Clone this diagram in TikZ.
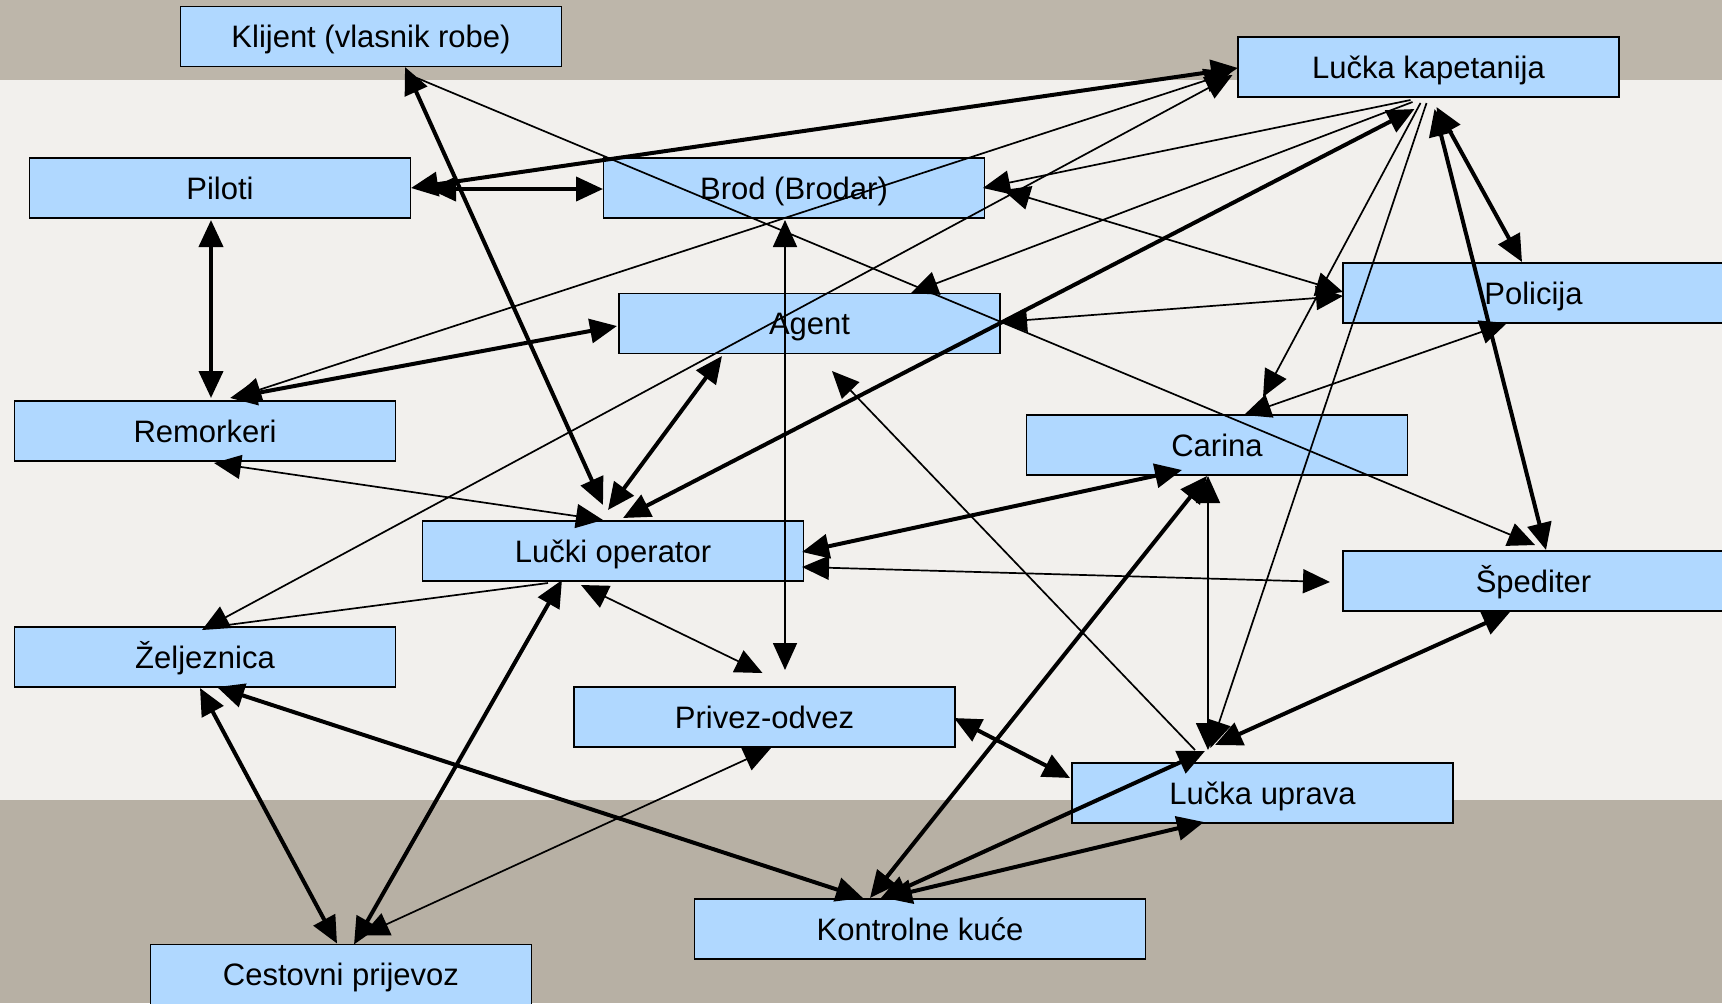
\documentclass[tikz,border=0pt]{standalone}
\usepackage{fontspec}
\setmainfont{Liberation Sans}
\usetikzlibrary{arrows.meta}
\definecolor{boxblue}{RGB}{176,216,255}
\definecolor{stone}{RGB}{189,182,170}
\definecolor{stonebot}{RGB}{183,176,164}
\definecolor{paper}{RGB}{242,240,237}
\begin{document}
\begin{tikzpicture}[x=0.5pt,y=-0.5pt,
  box/.style={draw=black,line width=0.8pt,fill=boxblue,minimum width=190.5pt,minimum height=30pt,inner sep=0pt,font=\fontsize{15.5pt}{18pt}\selectfont,text height=11.2pt,text depth=0pt},
  thn/.style={line width=0.85pt},
  thk/.style={line width=2pt},
  >={Triangle[length=13.5pt,width=12pt]},
]
\useasboundingbox (0,0) rectangle (1722,1003);
\fill[stone] (0,0) rectangle (1722,80);
\fill[paper] (0,80) rectangle (1722,800);
\fill[stonebot] (0,800) rectangle (1722,1003);

\node[box] (klijent) at (371,36.5) {Klijent (vlasnik robe)};
\node[box] (lk) at (1428.5,67) {Lučka kapetanija};
\node[box] (piloti) at (220,188) {Piloti};
\node[box] (brod) at (794,188) {Brod (Brodar)};
\node[box] (agent) at (809.5,323.5) {Agent};
\node[box] (policija) at (1533.5,293) {Policija};
\node[box] (remorkeri) at (205,431) {Remorkeri};
\node[box] (carina) at (1217,445) {Carina};
\node[box] (lo) at (613,551) {Lučki operator};
\node[box] (spediter) at (1533.5,581) {Špediter};
\node[box] (zeljeznica) at (205,657) {Željeznica};
\node[box] (privez) at (764.5,717) {Privez-odvez};
\node[box] (lu) at (1262.5,793) {Lučka uprava};
\node[box,minimum width=225.5pt] (kontrolne) at (920,929) {Kontrolne kuće};
\node[box] (cestovni) at (341,974.5) {Cestovni prijevoz};

\draw[thk,<->] ([shift={(34,30.5)}]klijent.center) -- ([shift={(-10,-46)}]lo.center);
\draw[thn,->] ([shift={(46,41.5)}]klijent.center) -- ([shift={(1.5,-36)}]spediter.center);
\draw[thk,<->] ([shift={(-190.5,1)}]lk.center) -- ([shift={(191,0)}]piloti.center);
\draw[thk,<->] ([shift={(209,1)}]piloti.center) -- ([shift={(-191,1)}]brod.center);
\draw[thk,<->] ([shift={(-9,32)}]piloti.center) -- ([shift={(6,-33)}]remorkeri.center);
\draw[thk,<->] ([shift={(25,-33)}]remorkeri.center) -- ([shift={(-192.5,2.5)}]agent.center);
\draw[thn,<->] ([shift={(29,-33)}]remorkeri.center) -- ([shift={(-197,5)}]lk.center);
\draw[thn,<->] ([shift={(-3,-27)}]zeljeznica.center) -- ([shift={(-196,8)}]lk.center);
\draw[thn,->] ([shift={(-18,33)}]lk.center) -- ([shift={(189,0)}]brod.center);
\draw[thn,<->] ([shift={(209,2)}]brod.center) -- ([shift={(-190.5,-1)}]policija.center);
\draw[thn,<->] ([shift={(-9,32)}]brod.center) -- ([shift={(20.5,-47)}]privez.center);
\draw[thn,->] ([shift={(-16,35)}]lk.center) -- ([shift={(101.5,-30.5)}]agent.center);
\draw[thn,<->] ([shift={(-190.5,3)}]policija.center) -- ([shift={(190.5,-1.5)}]agent.center);
\draw[thk,<->] ([shift={(-87.5,32.5)}]agent.center) -- ([shift={(-5,-41)}]lo.center);
\draw[thn,<-] ([shift={(22.5,47.5)}]agent.center) -- ([shift={(-67.5,-43)}]lu.center);
\draw[thk,<->] ([shift={(-14,42)}]lk.center) -- ([shift={(10,-33)}]lo.center);
\draw[thk,<->] ([shift={(8,40)}]lk.center) -- ([shift={(-11.5,-31)}]policija.center);
\draw[thk,<->] ([shift={(6,42)}]lk.center) -- ([shift={(12.5,-31)}]spediter.center);
\draw[thn,->] ([shift={(-8,36)}]lk.center) -- ([shift={(46,-48)}]carina.center);
\draw[thn,->] ([shift={(-2,36)}]lk.center) -- ([shift={(-52,-45)}]lu.center);
\draw[thn,<->] ([shift={(-26.5,30)}]policija.center) -- ([shift={(27,-30)}]carina.center);
\draw[thk,<->] ([shift={(189,1)}]lo.center) -- ([shift={(-35,25)}]carina.center);
\draw[thn,<->] ([shift={(189,16)}]lo.center) -- ([shift={(-203.5,1)}]spediter.center);
\draw[thk,<->] ([shift={(-10,31)}]carina.center) -- ([shift={(-50,-31)}]kontrolne.center);
\draw[thn,<->] ([shift={(-9,31)}]carina.center) -- ([shift={(-54.5,-43)}]lu.center);
\draw[thn,<->] ([shift={(-10,-31)}]lo.center) -- ([shift={(9,32)}]remorkeri.center);
\draw[thn] ([shift={(-65,32)}]lo.center) -- ([shift={(7,-30)}]zeljeznica.center);
\draw[thn,<->] ([shift={(-32,34)}]lo.center) -- ([shift={(-2,-44)}]privez.center);
\draw[thk,<->] ([shift={(-51,29)}]lo.center) -- ([shift={(13,-30)}]cestovni.center);
\draw[thk,<->] ([shift={(-5,31)}]zeljeznica.center) -- ([shift={(-4,-31)}]cestovni.center);
\draw[thk,<->] ([shift={(12,30)}]zeljeznica.center) -- ([shift={(-57,-31)}]kontrolne.center);
\draw[thn,<->] ([shift={(6.5,31)}]privez.center) -- ([shift={(21,-39)}]cestovni.center);
\draw[thk,<->] ([shift={(189.5,1)}]privez.center) -- ([shift={(-192.5,-15)}]lu.center);
\draw[thk,<->] ([shift={(-47.5,-48)}]lu.center) -- ([shift={(-23.5,31)}]spediter.center);
\draw[thk,<->] ([shift={(-57.5,-42)}]lu.center) -- ([shift={(-40,-30)}]kontrolne.center);
\draw[thk,<->] ([shift={(-35,-31)}]kontrolne.center) -- ([shift={(-58.5,29)}]lu.center);
\end{tikzpicture}
\end{document}
